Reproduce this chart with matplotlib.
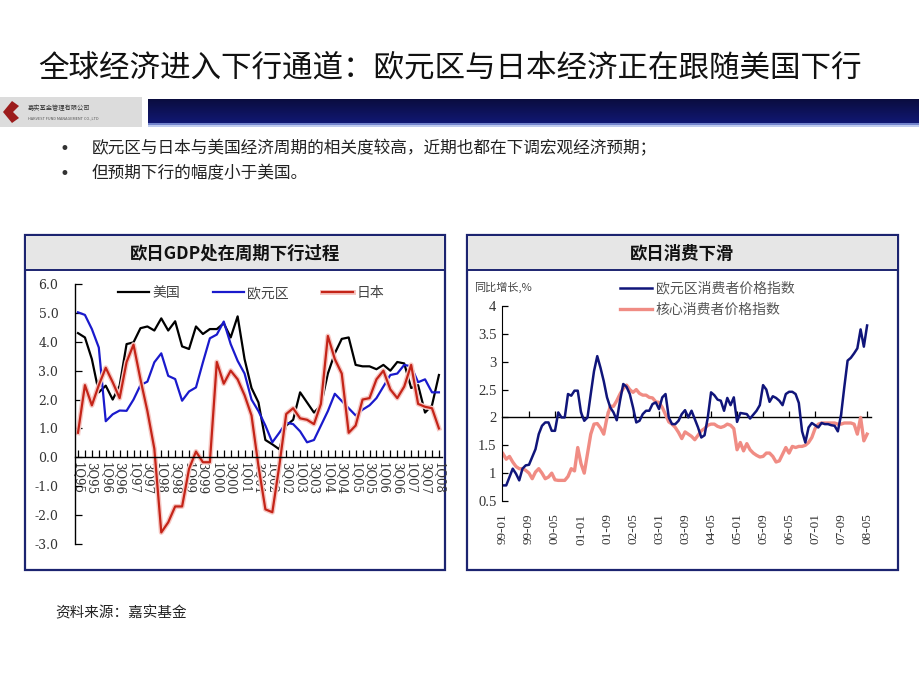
import numpy as np
import matplotlib.pyplot as plt
import matplotlib.patheffects as pe
from matplotlib.patches import Rectangle, Polygon

plt.rcParams['font.family'] = ['Noto Sans CJK SC', 'DejaVu Sans']

# ---- GDP YoY, quarterly 1Q95 .. 1Q08
quarter_labels = ['1Q95', '3Q95', '1Q96', '3Q96', '1Q97', '3Q97', '1Q98', '3Q98', '1Q99',
                  '3Q99', '1Q00', '3Q00', '1Q01', '3Q01', '1Q02', '3Q02', '1Q03', '3Q03',
                  '1Q04', '3Q04', '1Q05', '3Q05', '1Q06', '3Q06', '1Q07', '3Q07', '1Q08']
us_gdp = [4.3, 4.15, 3.4, 2.25, 2.48, 2.0, 2.48, 3.92, 3.98, 4.47,
          4.53, 4.39, 4.81, 4.39, 4.71, 3.84, 3.75, 4.53, 4.27, 4.44,
          4.44, 4.64, 4.15, 4.88, 3.4, 2.4, 1.9, 0.6, 0.45, 0.28,
          1.1, 1.3, 2.25, 1.9, 1.55, 1.8, 2.9, 3.6, 4.1, 4.15,
          3.2, 3.15, 3.15, 3.05, 3.2, 3.0, 3.3, 3.25, 2.4, 2.5,
          1.55, 1.8, 2.85]
euro_gdp = [5.02, 4.93, 4.44, 3.8, 1.25, 1.49, 1.62, 1.61, 2.0, 2.5,
            2.62, 3.29, 3.6, 2.82, 2.71, 1.96, 2.28, 2.42, 3.29, 4.12,
            4.25, 4.7, 3.92, 3.34, 2.9, 2.0, 1.6, 1.1, 0.52, 0.85,
            1.2, 1.15, 0.9, 0.52, 0.6, 1.1, 1.6, 2.2, 1.95, 1.7,
            1.45, 1.65, 1.8, 2.05, 2.45, 2.85, 2.9, 3.2, 3.15, 2.6,
            2.7, 2.25, 2.25]
japan_gdp = [0.85, 2.5, 1.8, 2.5, 3.1, 2.6, 2.05, 3.3, 3.9, 2.7,
             1.6, 0.3, -2.6, -2.25, -1.7, -1.7, -0.4, 0.2, -0.17, -0.17,
             3.3, 2.55, 3.0, 2.7, 2.15, 1.45, -0.3, -1.8, -1.9, -0.3,
             1.5, 1.7, 1.35, 1.3, 1.15, 1.85, 4.2, 3.4, 2.9, 0.85,
             1.1, 2.0, 2.05, 2.7, 3.0, 2.35, 2.05, 2.45, 3.2, 1.85,
             1.75, 1.7, 1.0]

# ---- CPI YoY, monthly 99-01 .. 08-05
month_labels = ['99-01', '99-09', '00-05', '01-01', '01-09', '02-05', '03-01', '03-09',
                '04-05', '05-01', '05-09', '06-05', '07-01', '07-09', '08-05']
euro_cpi = [0.78, 0.78, 0.93, 1.08, 0.99, 0.87, 1.08, 1.14, 1.15, 1.29,
            1.43, 1.70, 1.85, 1.91, 1.91, 1.76, 1.76, 2.09, 2.0, 2.0,
            2.42, 2.39, 2.48, 2.48, 2.09, 1.94, 2.0, 2.42, 2.83, 3.1,
            2.89, 2.65, 2.36, 2.18, 2.09, 1.95, 2.3, 2.6, 2.55, 2.42,
            2.18, 1.91, 1.94, 2.06, 2.12, 2.12, 2.24, 2.27, 2.15, 2.36,
            2.42, 2.0, 1.88, 1.88, 1.94, 2.06, 2.13, 2.0, 2.12, 1.97,
            1.82, 1.64, 1.68, 2.0, 2.45, 2.4, 2.32, 2.3, 2.12, 2.35,
            2.22, 2.36, 1.92, 2.08, 2.07, 2.06, 1.98, 2.05, 2.12, 2.22,
            2.58, 2.5, 2.28, 2.38, 2.35, 2.3, 2.22, 2.42, 2.46, 2.46,
            2.42, 2.26, 1.75, 1.55, 1.82, 1.9, 1.86, 1.82, 1.9, 1.88,
            1.88, 1.86, 1.85, 1.75, 2.05, 2.55, 3.02, 3.07, 3.15, 3.24,
            3.58, 3.27, 3.65]
core_cpi = [1.35, 1.25, 1.3, 1.2, 1.12, 1.08, 1.08, 1.05, 1.0, 0.9,
            1.02, 1.08, 1.0, 0.9, 0.93, 1.0, 0.88, 0.87, 0.87, 0.87,
            0.94, 1.08, 1.04, 1.46, 1.17, 1.0, 1.35, 1.7, 1.88, 1.89,
            1.81, 1.7, 2.0, 2.2, 2.2, 2.3, 2.42, 2.52, 2.58, 2.5,
            2.45, 2.5, 2.43, 2.4, 2.4, 2.36, 2.35, 2.28, 2.27, 2.18,
            2.05, 1.92, 1.88, 1.82, 1.73, 1.62, 1.74, 1.7, 1.66, 1.6,
            1.68, 1.76, 1.8, 1.86, 1.88, 1.88, 1.84, 1.82, 1.84, 1.88,
            1.86, 1.8, 1.42, 1.55, 1.4, 1.53, 1.42, 1.36, 1.32, 1.29,
            1.3, 1.36, 1.36, 1.3, 1.2, 1.22, 1.34, 1.46, 1.36, 1.48,
            1.46, 1.48, 1.48, 1.5, 1.55, 1.64, 1.8, 1.88, 1.9, 1.9,
            1.9, 1.9, 1.9, 1.88, 1.88, 1.9, 1.9, 1.9, 1.88, 1.7,
            2.0, 1.58, 1.7]

NAVY = '#1c2470'

fig = plt.figure(figsize=(9.2, 6.9), dpi=100)

# page decoration in pixel coordinates
bg = fig.add_axes([0, 0, 1, 1])
bg.set_xlim(0, 920)
bg.set_ylim(690, 0)
bg.axis('off')

bg.text(38, 68, '全球经济进入下行通道：欧元区与日本经济正在跟随美国下行',
        fontsize=22, ha='left', va='center', color='#111111')

# banner: logo + dark blue band
bg.add_patch(Rectangle((0, 97), 142, 30, fc='#dcdcdc', ec='none'))
bg.add_patch(Polygon([[3, 112], [12, 101], [19, 106], [13, 112], [19, 118], [12, 123]],
                     fc='#9c1c1c', ec='none'))
bg.text(28, 108, '嘉实基金管理有限公司', fontsize=4.5, color='#333333', va='center')
bg.text(28, 118, 'HARVEST FUND MANAGEMENT CO.,LTD', fontsize=2.8, color='#555555', va='center')
band = np.zeros((28, 2, 3))
top = np.array([0.04, 0.05, 0.25])
mid = np.array([0.07, 0.10, 0.48])
for i in range(28):
    t = i / 27
    band[i, :, :] = top * (1 - t) + mid * t
band[-4:, :, :] = [[0.45, 0.52, 0.80]]
band[-2:, :, :] = [[0.75, 0.80, 0.94]]
bg.imshow(band, extent=[148, 920, 127, 99], aspect='auto', interpolation='bilinear')

# bullets
for yb in (149, 174):
    bg.text(60, yb, '•', fontsize=12, va='center', color='#333333', family='DejaVu Sans')
bg.text(92, 149, '欧元区与日本与美国经济周期的相关度较高，近期也都在下调宏观经济预期；',
        fontsize=12, va='center', color='#222222')
bg.text(92, 174, '但预期下行的幅度小于美国。', fontsize=12, va='center', color='#222222')

# chart boxes
for x0, x1, title in [(25, 445, '欧日GDP处在周期下行过程'), (467, 898, '欧日消费下滑')]:
    bg.add_patch(Rectangle((x0, 235), x1 - x0, 335, fc='white', ec=NAVY, lw=1.6))
    bg.add_patch(Rectangle((x0 + 1, 236), x1 - x0 - 2, 34, fc='#e6e6e6', ec='none'))
    bg.plot([x0, x1], [270, 270], color=NAVY, lw=1.4)
    bg.text((x0 + x1) / 2, 254, title, fontsize=12.5, fontweight='bold',
            ha='center', va='center', color='#111111')

bg.text(474, 287, '同比增长,%', fontsize=8, color='#444444', va='center')
bg.text(55, 613, '资料来源：嘉实基金', fontsize=10.5, va='center', color='#222222')

# ---- left chart: GDP
ax1 = fig.add_axes([75 / 920, 1 - 544 / 690, 366.7 / 920, 260 / 690])
ax1.patch.set_alpha(0)
q = np.arange(len(us_gdp))
l_us, = ax1.plot(q, us_gdp, color='black', lw=1.6, label='美国')
l_eu, = ax1.plot(q, euro_gdp, color='#1a1acc', lw=1.6, label='欧元区')
l_jp, = ax1.plot(q, japan_gdp, color='#c42418', lw=1.6, label='日本',
                 path_effects=[pe.Stroke(linewidth=3.6, foreground='#f6c8c4'), pe.Normal()])
ax1.set_xlim(-0.43, 52.4)
ax1.set_ylim(-3, 6)
ax1.spines[['top', 'right']].set_visible(False)
ax1.spines['bottom'].set_position(('data', 0))
ax1.spines['left'].set_linewidth(1.0)
ax1.spines['bottom'].set_linewidth(1.0)

q_labels = []
for i in q:
    q_labels.append(quarter_labels[i // 2] if i % 2 == 0 else '')
ax1.set_xticks(q, labels=q_labels, rotation=-90, fontfamily='DejaVu Serif', fontsize=8.5)
ax1.tick_params(axis='x', direction='in', length=5, width=0.9, pad=3, labelcolor='#333333')
yt = np.arange(-3, 6.1, 1)
ax1.set_yticks(yt, labels=[f'{v:.1f}' for v in yt], fontfamily='DejaVu Serif', fontsize=9)
ax1.tick_params(axis='y', direction='in', length=5, width=0.9, pad=12, labelcolor='#333333')
ax1.legend(handles=[l_us, l_eu, l_jp], loc='center', bbox_to_anchor=(0.48, 0.965), ncol=3,
           frameon=False, fontsize=10, labelcolor='#444444', handlelength=2.2,
           handletextpad=0.25, columnspacing=2.4)

# ---- right chart: CPI
ax2 = fig.add_axes([502 / 920, 1 - 501 / 690, 369 / 920, 195 / 690])
ax2.patch.set_alpha(0)
m = np.arange(len(euro_cpi))
l_core, = ax2.plot(m, core_cpi, color='#f08c84', lw=2.4, label='核心消费者价格指数')
l_euro, = ax2.plot(m, euro_cpi, color='#10157a', lw=1.8, label='欧元区消费者价格指数')
ax2.set_xlim(-0.3, 113.2)
ax2.set_ylim(0.5, 4)
ax2.spines[['top', 'right', 'bottom']].set_visible(False)
ax2.set_xticks(np.arange(0, 113, 8), labels=month_labels, rotation=90,
               fontfamily='Liberation Serif', fontsize=9.5)
ax2.tick_params(axis='x', length=0, pad=9, labelcolor='#333333')
yt2 = [0.5, 1, 1.5, 2, 2.5, 3, 3.5, 4]
ax2.set_yticks(yt2, labels=['0.5', '1', '1.5', '2', '2.5', '3', '3.5', '4'],
               fontfamily='Liberation Serif', fontsize=10.5)
ax2.tick_params(axis='y', direction='in', length=4, width=0.9, pad=4, labelcolor='#333333')

mid_axis = ax2.secondary_xaxis((2 - 0.5) / 3.5)
mid_axis.set_xticks(np.arange(8, 113, 8))
mid_axis.tick_params(direction='in', length=4, width=0.9, labelbottom=False, labeltop=False)
mid_axis.spines['bottom'].set_linewidth(1.0)

ax2.legend(handles=[l_euro, l_core], loc='upper left', bbox_to_anchor=(0.285, 1.19),
           frameon=False, fontsize=10, labelcolor='#555555', handlelength=2.3,
           handletextpad=0.3, labelspacing=0.55)

fig.savefig('out.png', dpi=100)
